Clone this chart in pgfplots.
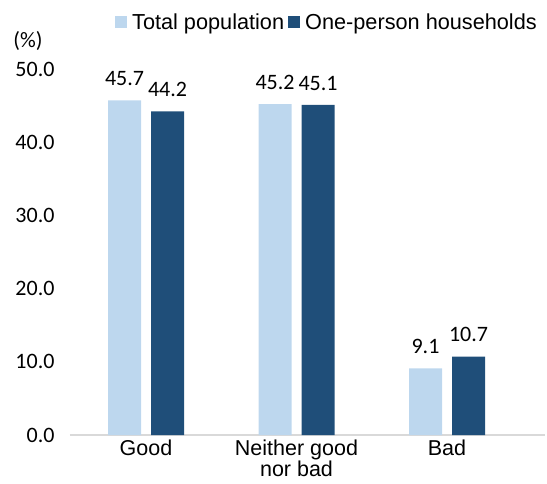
\documentclass[border=0pt]{standalone}
\usepackage{pgfplots}
\pgfplotsset{compat=1.18}
\usepackage{fontspec}
\setmainfont{Carlito}
\newfontfamily\arial{Liberation Sans}
\definecolor{lightb}{HTML}{BDD7EE}
\definecolor{darkb}{HTML}{1F4E79}
\definecolor{basel}{HTML}{D9D9D9}
\begin{document}
\begin{tikzpicture}
\begin{axis}[
  at={(0,0)}, anchor=south west,
  scale only axis,
  width=475pt, height=366pt,
  ymin=0, ymax=50,
  xmin=-0.505, xmax=2.651,
  ybar=10pt, bar width=33pt,
  xtick=data,
  xticklabels={Good,{Neither good\\nor bad},Bad},
  ytick={0,10,20,30,40,50},
  tick label style={font=\fontsize{22}{22}\selectfont},
  yticklabel style={xshift=-12pt, /pgf/number format/fixed, /pgf/number format/fixed zerofill, /pgf/number format/precision=1, /pgf/number format/assume math mode=true},
  xticklabel style={font=\arial\fontsize{21.5}{18.5}\selectfont, align=center, yshift=-4pt, inner sep=1pt},
  major tick length=0pt,
  axis x line*=bottom, axis y line*=left,
  y axis line style={draw=none},
  x axis line style={draw=basel, line width=1.2pt},
  nodes near coords,
  every node near coord/.append style={font=\fontsize{22}{22}\selectfont, text=black, yshift=11pt,
     /pgf/number format/fixed, /pgf/number format/fixed zerofill, /pgf/number format/precision=1, /pgf/number format/assume math mode=true},
  legend columns=2,
  legend style={draw=none, fill=none, at={(rel axis cs:0.541,1.128)}, anchor=center,
     font=\arial\fontsize{21.7}{21.7}\selectfont, /tikz/every even column/.append style={column sep=2pt}},
  legend image code/.code={\fill[#1] (0pt,-6pt) rectangle (12pt,6pt); \path (15pt,0pt);},
  clip=false,
]
\addplot[fill=lightb, draw=none] coordinates {(0,45.7) (1,45.2) (2,9.1)};
\addplot[fill=darkb, draw=none] coordinates {(0,44.2) (1,45.1) (2,10.7)};
\legend{Total population, One-person households}
\node[font=\fontsize{22}{22}\selectfont] at (rel axis cs:0,1) [xshift=-42pt, yshift=28pt] {(\%)};
\end{axis}
\pgfresetboundingbox
\useasboundingbox (-70pt,-48pt) rectangle (477pt,435pt);
\end{tikzpicture}
\end{document}
